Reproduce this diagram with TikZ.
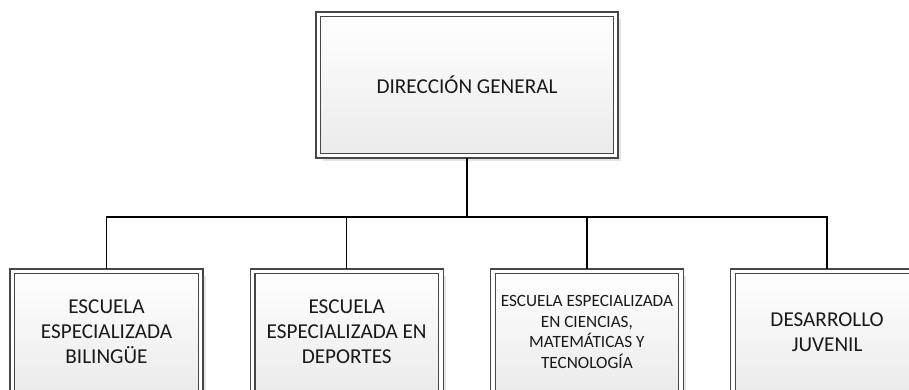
\documentclass[tikz,border=0pt]{standalone}
\usepackage{fontspec}
\setmainfont{Carlito}
\usepackage{tikz}
\usetikzlibrary{positioning}
\usetikzlibrary{shadows}

\tikzset{
	caja/.style={rectangle, draw=black!72, line width=1.2pt, double=white, double distance=3.6pt,
		outer sep=0pt, inner sep=0pt, top color=white, bottom color=black!8,
		drop shadow={shadow xshift=5pt, shadow yshift=-5pt, fill=black!10, opacity=1},
		align=center, text=black!90, font=\fontsize{21.2}{25}\selectfont},
	hija/.style={caja, minimum width=188.2pt, minimum height=121.2pt},
	linea/.style={line width=1.5pt, black}
}

\begin{document}
\begin{tikzpicture}[x=1pt, y=-1pt]
	\useasboundingbox (0,0) rectangle (909,390);
	\clip (0,0) rectangle (909,390);

	\node[caja, minimum width=297.2pt, minimum height=141.2pt] (dg) at (467,85) {DIRECCIÓN GENERAL};

	\node[hija] (e1) at (106.5,332) {ESCUELA\\ESPECIALIZADA\\BILINGÜE};
	\node[hija, right=52pt of e1] (e2) {ESCUELA\\ESPECIALIZADA EN\\DEPORTES};
	\node[hija, right=52pt of e2, font=\fontsize{17.2}{20.5}\selectfont] (e3)
	{ESCUELA ESPECIALIZADA\\EN CIENCIAS,\\MATEMÁTICAS Y\\TECNOLOGÍA};
	\node[hija, right=52pt of e3] (dj) {DESARROLLO\\JUVENIL};

	\coordinate (bus) at (467,217);
	\draw[linea, shorten <=2.4pt] (dg.south) -- (dg.south |- bus);
	\draw[linea, shorten <=2.4pt, shorten >=2.4pt] (e1.north) |- (dj.north |- bus) -- (dj.north);
	\foreach \n in {e2, e3}
	\draw[linea, shorten >=2.4pt] (\n.north |- bus) -- (\n.north);
\end{tikzpicture}
\end{document}
